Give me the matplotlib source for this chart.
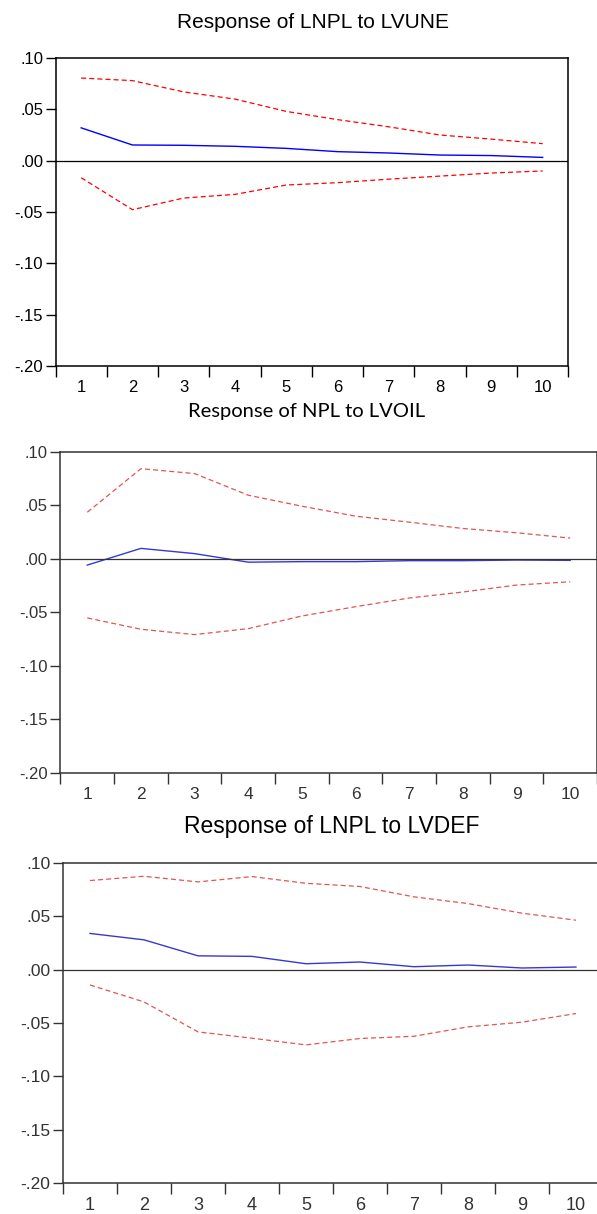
import matplotlib.pyplot as plt
from matplotlib.ticker import FixedLocator, FuncFormatter

plt.rcParams['font.family'] = ['Liberation Sans', 'DejaVu Sans']

periods = [1, 2, 3, 4, 5, 6, 7, 8, 9, 10]

# Response of LNPL to LVUNE
une_resp = [0.032, 0.0153, 0.015, 0.014, 0.012, 0.0088, 0.0075, 0.0055, 0.005, 0.0032]
une_upper = [0.0805, 0.078, 0.067, 0.060, 0.048, 0.040, 0.033, 0.025, 0.021, 0.0166]
une_lower = [-0.0166, -0.0477, -0.0364, -0.0328, -0.0237, -0.0214, -0.018, -0.015, -0.012, -0.010]

# Response of NPL to LVOIL
oil_resp = [-0.0057, 0.0099, 0.005, -0.003, -0.0025, -0.0025, -0.0016, -0.0016, -0.001, -0.0013]
oil_upper = [0.0437, 0.0844, 0.0798, 0.0596, 0.0493, 0.040, 0.0344, 0.0285, 0.0245, 0.0195]
oil_lower = [-0.0551, -0.0657, -0.0707, -0.0651, -0.0533, -0.0446, -0.0365, -0.0309, -0.0244, -0.0213]

# Response of LNPL to LVDEF
def_resp = [0.034, 0.028, 0.013, 0.0125, 0.0056, 0.0072, 0.0028, 0.0044, 0.0016, 0.0025]
def_upper = [0.0836, 0.0876, 0.0823, 0.0873, 0.081, 0.078, 0.0683, 0.062, 0.053, 0.0464]
def_lower = [-0.0143, -0.0302, -0.0583, -0.0642, -0.0705, -0.0645, -0.0624, -0.0536, -0.0492, -0.0411]

titles = ["Response of LNPL to LVUNE", "Response of NPL to LVOIL", "Response of LNPL to LVDEF"]
yticks = [-0.20, -0.15, -0.10, -0.05, 0.00, 0.05, 0.10]

def fmt(v, pos):
    s = "%.2f" % v
    return s.replace("0.", ".", 1)

fig = plt.figure(figsize=(5.97, 12.14), dpi=100)

# axes boxes in figure fractions (panels 2 and 3 are cut at the right edge)
boxes = [
    [0.093, 0.6985, 0.859, 0.2537],
    [0.1013, 0.3633, 0.8987, 0.2644],
    [0.1055, 0.0255, 0.9045, 0.2636],
]
panels = [
    (une_resp, une_upper, une_lower, "#0000ff", "#ff0000", "black"),
    (oil_resp, oil_upper, oil_lower, "#3838d0", "#e05555", "#333333"),
    (def_resp, def_upper, def_lower, "#3838d0", "#e05555", "#333333"),
]
title_pos = [(0.524, 1 - 22 / 1214), (0.513, 1 - 411 / 1214), (0.556, 1 - 826 / 1214)]
title_font = [['Liberation Sans'], ['Lato'], ['Liberation Sans']]
title_size = [15, 14.5, 16.5]
xlab_size = [12, 12.5, 13]
ylab_size = [12, 12, 12.5]

for i in range(3):
    resp, up, lo, bcol, rcol, kcol = panels[i]
    ax = fig.add_axes(boxes[i])
    ax.plot(periods, up, color=rcol, lw=0.9, dashes=(4, 2.5))
    ax.plot(periods, lo, color=rcol, lw=0.9, dashes=(4, 2.5))
    ax.plot(periods, resp, color=bcol, lw=1.0)
    ax.axhline(0, color=kcol, lw=0.9)
    ax.set_xlim(0.5, 10.5)
    ax.set_ylim(-0.20, 0.10)
    ax.set_yticks(yticks)
    ax.yaxis.set_major_formatter(FuncFormatter(fmt))
    ax.set_xticks(periods)
    ax.set_xticklabels([str(p) for p in periods])
    ax.xaxis.set_minor_locator(FixedLocator([p + 0.5 for p in [0] + periods]))
    ax.tick_params(axis="x", which="major", length=0, pad=10, labelsize=xlab_size[i], colors=kcol)
    ax.tick_params(axis="x", which="minor", length=8, width=1.0, direction="out", color=kcol)
    ax.tick_params(axis="y", length=7, width=1.0, direction="out", pad=2, labelsize=ylab_size[i], colors=kcol)
    for sp in ax.spines.values():
        sp.set_color(kcol)
        sp.set_linewidth(1.1)
    fig.text(title_pos[i][0], title_pos[i][1], titles[i], ha="center", va="center",
             fontsize=title_size[i], family=title_font[i], color="black")

fig.savefig("out.png", dpi=100)
